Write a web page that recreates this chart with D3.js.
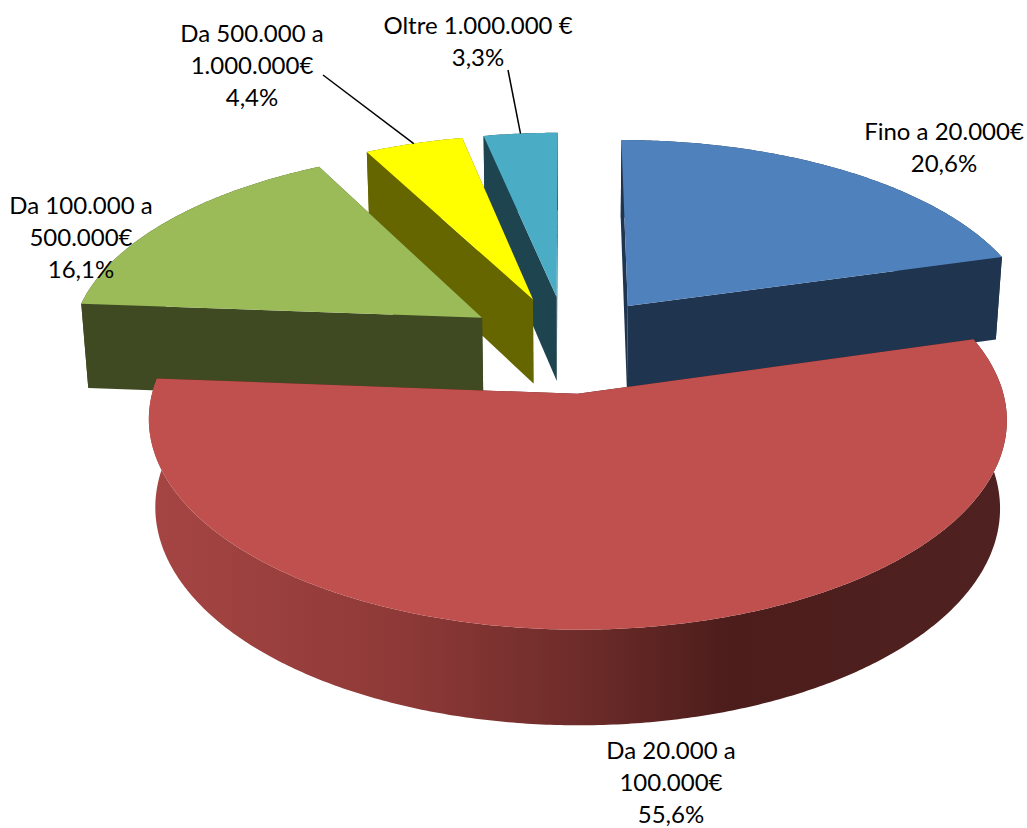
<!DOCTYPE html>
<html>
<head>
<meta charset="utf-8">
<script src="https://cdnjs.cloudflare.com/ajax/libs/d3/7.8.5/d3.min.js"></script>
<style>
    html, body { margin: 0; padding: 0; background: #ffffff; }
    svg { display: block; }
    text { font-family: Lato, "Open Sans", sans-serif; font-size: 24px; fill: #000000; }
</style>
</head>
<body>
<div id="chart"></div>
<script>
// chart data
var categories = ["Fino a 20.000€", "Da 20.000 a 100.000€", "Da 100.000 a 500.000€", "Da 500.000 a 1.000.000€", "Oltre 1.000.000 €"];
var shares = [20.6, 55.6, 16.1, 4.4, 3.3];
var shareLabels = ["20,6%", "55,6%", "16,1%", "4,4%", "3,3%"];

// looks
var topColours = ["#4f81bd", "#c0504d", "#9bbb59", "#ffff00", "#4bacc6"];
var wallColours = ["#1f344f", "url(#redWall)", "#3f4922", "#666600", "#1e4450"];
var drawOrder = [4, 3, 0, 2, 1]; // back to front

// category names wrap the way the picture wraps them
var nameLines = [
    ["Fino a 20.000€"],
    ["Da 20.000 a", "100.000€"],
    ["Da 100.000 a", "500.000€"],
    ["Da 500.000 a", "1.000.000€"],
    ["Oltre 1.000.000 €"]
];
var labelPos = [[944, 140], [671, 759], [81, 214], [252, 42], [478, 34]]; // centre x, first baseline
var lineHeight = 32;

var width = 1027, height = 828;

// perspective of the pie, u/v on the ground plane (radius 1), z 0 = top 1 = bottom
var view = {cx: 567, cy: 344, R: 413, A: 194.5, k: 0.12, D: 87, m: 0.015};
var explode = 0.25;

function project(u, v, z) {
    var w = 1 - view.k * v + view.m * z;
    return [view.cx + view.R * u / w, view.cy + (view.A * v + view.D * z) / w];
}

var pie = d3.pie().sort(null);

var slices = pie(shares);

var line = d3.line();

// ground position of a slice's rim at angle a
function rim(d, a, z) {
    var mid = (d.startAngle + d.endAngle) / 2;
    var u = explode * Math.sin(mid) + Math.sin(a);
    var v = -explode * Math.cos(mid) - Math.cos(a);
    return project(u, v, z);
}

function apex(d, z) {
    var mid = (d.startAngle + d.endAngle) / 2;
    return project(explode * Math.sin(mid), -explode * Math.cos(mid), z);
}

function arcPoints(d, z) {
    var n = Math.ceil((d.endAngle - d.startAngle) / 0.01);
    return d3.range(n + 1).map(function(i) {
        return rim(d, d.startAngle + (d.endAngle - d.startAngle) * i / n, z);
    });
}

var svg = d3.select("#chart")
    .append("svg")
    .attr("width", width)
    .attr("height", height);

// the lit-from-left shading of the red wall
var gradient = svg.append("defs")
    .append("linearGradient")
    .attr("id", "redWall")
    .attr("gradientUnits", "userSpaceOnUse")
    .attr("x1", 157).attr("x2", 1000)
    .attr("y1", 0).attr("y2", 0);

[[0, "#a54543"], [0.28, "#8f3a38"], [0.5, "#6e2c2a"], [0.68, "#4c1d1b"], [1, "#4f2120"]].forEach(function(s) {
    gradient.append("stop").attr("offset", s[0]).attr("stop-color", s[1]);
});

drawOrder.forEach(function(i) {
    var d = slices[i];
    var g = svg.append("g").attr("class", "slice");

    // outer wall first, then the radial walls far to near, the top goes last
    g.append("path")
        .attr("d", line(arcPoints(d, 0).concat(arcPoints(d, 1).reverse())) + "Z")
        .attr("fill", wallColours[i]);

    var walls = [d.startAngle, d.endAngle].map(function(a) {
        return {a: a, near: -Math.cos(a)};
    }).sort(function(p, q) { return d3.ascending(p.near, q.near); });

    walls.forEach(function(w) {
        var pts = [apex(d, 0), rim(d, w.a, 0), rim(d, w.a, 1), apex(d, 1)];
        g.append("path")
            .attr("d", line(pts) + "Z")
            .attr("fill", wallColours[i] === "url(#redWall)" ? "#4a1c1b" : wallColours[i]);
    });

    g.append("path")
        .attr("d", line([apex(d, 0)].concat(arcPoints(d, 0))) + "Z")
        .attr("fill", topColours[i]);
});

// labels
nameLines.forEach(function(names, i) {
    svg.append("text")
        .attr("text-anchor", "middle")
        .selectAll("tspan")
        .data(names.concat(shareLabels[i]))
        .enter().append("tspan")
        .attr("x", labelPos[i][0])
        .attr("y", function(t, j) { return labelPos[i][1] + j * lineHeight; })
        .text(function(t) { return t; });
});

// leader lines, from under the label to the rim of the slice
var leaders = [
    {slice: 3, from: [323, 75], at: 0.5},
    {slice: 4, from: [508, 70], at: 0.5}
];

leaders.forEach(function(l) {
    var d = slices[l.slice];
    var end = rim(d, d.startAngle + (d.endAngle - d.startAngle) * l.at, 0);
    svg.append("path")
        .attr("d", line([l.from, end]))
        .attr("fill", "none")
        .attr("stroke", "#000000")
        .attr("stroke-width", 1.5);
});
</script>
</body>
</html>
